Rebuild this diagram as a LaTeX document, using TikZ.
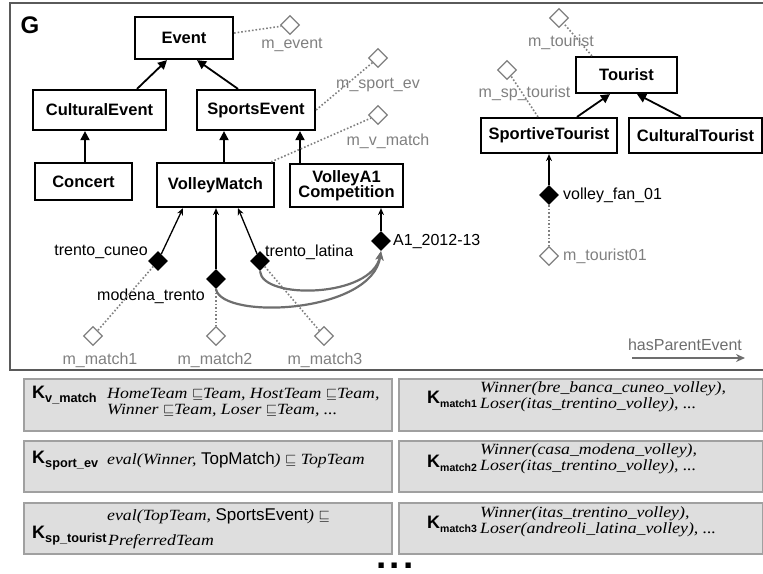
\documentclass[tikz,border=0pt]{standalone}
\usepackage{fontspec}
\setmainfont{Liberation Serif}
\newfontfamily\arial{Liberation Sans}
\newfontfamily\kfont[FakeStretch=1.14]{Liberation Serif}
\usetikzlibrary{shapes.geometric,arrows.meta}
\definecolor{framegray}{HTML}{5A5A5A}
\definecolor{mgray}{HTML}{808080}
\definecolor{curvegray}{HTML}{6E6E6E}
\definecolor{boxfill}{HTML}{DEDEDE}
\definecolor{boxdraw}{HTML}{A0A0A0}
\tikzset{
 cls/.style={draw, line width=2.2, font=\arial\bfseries\fontsize{16.5}{18}\selectfont, inner sep=0, align=center},
 isa/.style={line width=1.8, -{Triangle[length=9,width=9]}},
 inst/.style={line width=1.3, -{Stealth[length=7,width=6]}},
 ind/.style={diamond, fill=black, minimum width=20, minimum height=20, inner sep=0},
 meta/.style={diamond, draw=mgray, fill=white, line width=1.3, minimum width=19, minimum height=19, inner sep=0},
 dotl/.style={mgray, line width=1.6, dotted},
 lbl/.style={font=\arial\fontsize{16}{18}\selectfont, inner sep=0},
 mlbl/.style={lbl, text=mgray},
 hpe/.style={curvegray, line width=2.2, -{Stealth[length=9,width=8]}},
 kbox/.style={draw=boxdraw, fill=boxfill, line width=1.5, anchor=north west, inner sep=0},
 klab/.style={font=\arial\bfseries\fontsize{18}{18}\selectfont, anchor=base west, inner sep=0},
 ktxt/.style={font=\kfont\fontsize{15.6}{17}\selectfont\itshape, anchor=base west, inner sep=0},
}
\newcommand{\ksub}[1]{\raisebox{-4pt}{\fontsize{12.7}{13}\selectfont #1}}
\newcommand{\ksubr}[1]{\raisebox{-4pt}{\fontsize{10.5}{11}\selectfont #1}}
\begin{document}
\begin{tikzpicture}[x=1pt,y=-1pt]
\useasboundingbox (0,0) rectangle (763,573);
% frame
\draw[framegray, line width=1.6] (10,3) rectangle (766,370);
\node[font=\arial\bfseries\fontsize{24}{24}\selectfont, inner sep=0] (G) at (30,25) {G};
% classes
\node[cls, minimum width=98, minimum height=42] (event) at (184,38) {Event};
\node[cls, minimum width=133, minimum height=40] (cult) at (99.5,110) {CulturalEvent};
\node[cls, minimum width=118, minimum height=40] (sport) at (256,110) {SportsEvent};
\node[cls, minimum width=97, minimum height=37] (concert) at (83.5,181.5) {Concert};
\node[cls, minimum width=117, minimum height=44] (vm) at (215.5,185) {VolleyMatch};
\node[cls, minimum width=113, minimum height=43] (va1) at (346.5,185.5) {VolleyA1\\[-3pt]Competition};
\node[cls, minimum width=101, minimum height=36] (tourist) at (626.5,75) {Tourist};
\node[cls, minimum width=136, minimum height=35] (sptour) at (549,135.5) {SportiveTourist};
\node[cls, minimum width=133, minimum height=35] (cutour) at (695.5,135.5) {CulturalTourist};
% isa arrows
\draw[isa] ([xshift=37.5]cult.north) -- ([xshift=-17]event.south);
\draw[isa] ([xshift=-18]sport.north) -- ([xshift=13]event.south);
\draw[isa] ([xshift=1.5]concert.north) -- ([xshift=-14.5]cult.south);
\draw[isa] ([xshift=8.5]vm.north) -- ([xshift=-32]sport.south);
\draw[isa] ([xshift=-46.5]va1.north) -- ([xshift=44]sport.south);
\draw[isa] ([xshift=28]sptour.north) -- ([xshift=-16.5]tourist.south);
\draw[isa] ([xshift=-14.5]cutour.north) -- ([xshift=10.5]tourist.south);
% individuals
\node[ind] (tc) at (158,261) {};
\node[ind] (mt) at (216,279) {};
\node[ind] (tl) at (260,261) {};
\node[ind] (a1) at (381,241) {};
\node[ind] (vf) at (549,195) {};
\node[lbl, anchor=east] (tcl) at (148,252) {trento\_cuneo};
\node[lbl] (mtl) at (151,296) {modena\_trento};
\node[lbl, anchor=west] (tll) at (265,252) {trento\_latina};
\node[lbl, anchor=west] (a1l) at (393,242) {A1\_2012-13};
\node[lbl, anchor=west] (vfl) at (563,195) {volley\_fan\_01};
\draw[inst] (tc) -- ([xshift=-32.5]vm.south);
\draw[inst] (mt) -- (mt |- vm.south);
\draw[inst] (tl) -- ([xshift=22.5]vm.south);
\draw[inst] (a1) -- (a1 |- va1.south);
\draw[inst] (vf) -- (vf |- sptour.south);
% meta diamonds
\node[meta] (mm1) at (93,336) {};
\node[meta] (mm2) at (216,336) {};
\node[meta] (mm3) at (324,336) {};
\node[meta] (mev) at (290,25) {};
\node[meta] (msp) at (378,58) {};
\node[meta] (mvm) at (378,115) {};
\node[meta] (mto) at (559,18) {};
\node[meta] (mspt) at (507,70) {};
\node[meta] (mt01) at (549,256) {};
\draw[dotl] ([yshift=5]event.east) -- (mev);
\draw[dotl] (sport.east) -- (msp);
\draw[dotl] ([xshift=-4]vm.north east) -- (mvm);
\draw[dotl] ([xshift=17]tourist.north west) -- (mto);
\draw[dotl] ([xshift=-11]sptour.north) -- (mspt);
\draw[dotl] (tc) -- (mm1);
\draw[dotl] (mt) -- (mm2);
\draw[dotl] (tl) -- (mm3);
\draw[dotl] (vf) -- (mt01);
\node[mlbl] (mevl) at (292,45) {m\_event};
\node[mlbl] (mspl) at (378,85) {m\_sport\_ev};
\node[mlbl] (mvml) at (388,141) {m\_v\_match};
\node[mlbl] (mtol) at (561,42) {m\_tourist};
\node[mlbl] (msptl) at (524.5,93) {m\_sp\_tourist};
\node[mlbl, anchor=west] (mt01l) at (563,256) {m\_tourist01};
\node[mlbl] (mm1l) at (100,360) {m\_match1};
\node[mlbl] (mm2l) at (215,360) {m\_match2};
\node[mlbl] (mm3l) at (325,360) {m\_match3};
% hasParentEvent
\draw[hpe] (mt.south) .. controls (222,320) and (372,314) .. (a1.south);
\draw[hpe] (tl.south) .. controls (262,300) and (372,298) .. (a1.south);
\node[lbl, text=curvegray] (hpel) at (685,345) {hasParentEvent};
\coordinate (lg1) at (632,358);
\coordinate (lg2) at (745,358);
\draw[hpe] (lg1) -- (lg2);
% knowledge boxes
\node[kbox, minimum width=368, minimum height=52] (kvm) at (23,378) {};
\node[kbox, minimum width=368, minimum height=51] (kse) at (23,440) {};
\node[kbox, minimum width=368, minimum height=51] (kst) at (23,502) {};
\node[kbox, minimum width=364, minimum height=52] (km1) at (398,378) {};
\node[kbox, minimum width=364, minimum height=51] (km2) at (398,440) {};
\node[kbox, minimum width=364, minimum height=51] (km3) at (398,502) {};
\node[klab] (kvml) at (32,398) {K\ksub{v\_match}};
\node[ktxt] (kvm1) at (107,398) {HomeTeam $\sqsubseteq$Team, HostTeam $\sqsubseteq$Team,};
\node[ktxt] (kvm2) at (107,414) {Winner $\sqsubseteq$Team, Loser $\sqsubseteq$Team, ...};
\node[klab] (ksel) at (32,463) {K\ksub{sport\_ev}};
\node[ktxt] (kse1) at (107,464) {eval(Winner, {\arial\upshape\fontsize{17}{17}\selectfont TopMatch}) $\sqsubseteq$ TopTeam};
\node[klab] (kstl) at (32,538) {K\ksub{sp\_tourist}};
\node[ktxt] (kst1) at (107,520) {eval(TopTeam, {\arial\upshape\fontsize{17}{17}\selectfont SportsEvent}) $\sqsubseteq$};
\node[ktxt] (kst2) at (108,545) {PreferredTeam};
\node[klab] (km1l) at (427,403) {K\ksubr{match1}};
\node[ktxt] (km11) at (480,392) {Winner(bre\_banca\_cuneo\_volley),};
\node[ktxt] (km12) at (480,408) {Loser(itas\_trentino\_volley), ...};
\node[klab] (km2l) at (427,467) {K\ksubr{match2}};
\node[ktxt] (km21) at (480,454) {Winner(casa\_modena\_volley),};
\node[ktxt] (km22) at (480,470) {Loser(itas\_trentino\_volley), ...};
\node[klab] (km3l) at (427,528) {K\ksubr{match3}};
\node[ktxt] (km31) at (480,517) {Winner(itas\_trentino\_volley),};
\node[ktxt] (km32) at (480,533) {Loser(andreoli\_latina\_volley), ...};
\node[font=\arial\bfseries\fontsize{37}{37}\selectfont, anchor=base, inner sep=0] (more) at (395,568) {.\kern3.5pt.\kern3.5pt.};
\end{tikzpicture}
\end{document}
